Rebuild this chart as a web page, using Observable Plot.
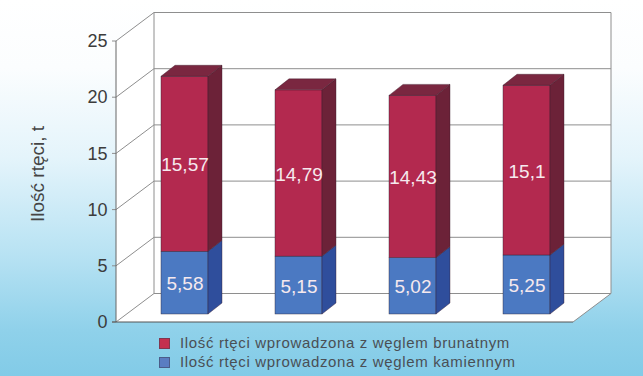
<!DOCTYPE html>
<html>
<head>
<meta charset="utf-8">
<script src="https://cdn.jsdelivr.net/npm/d3@7"></script>
<script src="https://cdn.jsdelivr.net/npm/@observablehq/plot@0.6"></script>
<style>
html, body { margin: 0; padding: 0; width: 643px; height: 376px; overflow: hidden; }
body {
  position: relative;
  font-family: "Liberation Sans", Arial, sans-serif;
  background: linear-gradient(to bottom, #ffffff 0%, #fbfdfe 18%, #e4f4fb 42%, #b7e2f3 68%, #8fd1ea 88%, #82cbe7 100%);
}
#chart svg { display: block; background: transparent; }
#legend { position: absolute; left: 159px; top: 333px; font-size: 15px; color: #4a4f55; letter-spacing: 0.65px; }
#legend div { height: 19px; line-height: 19px; white-space: nowrap; }
#legend span.sw { display: inline-block; width: 9px; height: 9px; margin-right: 10px; vertical-align: -1px; border: 1px solid rgba(60,60,80,0.5); }
</style>
</head>
<body>
<div id="chart"></div>
<div id="legend"></div>
<script>
// ---- data ----
const categories = ["1", "2", "3", "4"];            // four bars (no category labels shown)
const brunatny = [15.57, 14.79, 14.43, 15.1];       // brown coal (red, top)
const kamienny = [5.58, 5.15, 5.02, 5.25];          // hard coal (blue, bottom)
const seriesNames = [
  "Ilość rtęci wprowadzona z węglem brunatnym",
  "Ilość rtęci wprowadzona z węglem kamiennym"
];
const yTicks = [0, 5, 10, 15, 20, 25];
const yTitle = "Ilość rtęci, t";

// ---- style ----
const frontColors = ["#b3294f", "#4b79c2"];   // front faces [brunatny, kamienny]
const sideColors = ["#6c2238", "#2f4e9c"];    // side faces
const topColor = "#7a2740";
const gridColor = "#8e8e8e";
const FRONT = [-11, 8];      // front (axis) plane offset from bar plane
const BACK = [27, -20.5];    // back wall offset from bar plane
const DEPTH = [14, -11];     // bar depth

const fmt = v => String(v).replace(".", ",");

// stacked rows (bottom: kamienny, top: brunatny)
const rows = categories.flatMap((c, i) => [
  {cat: c, series: seriesNames[1], value: kamienny[i], base: 0},
  {cat: c, series: seriesNames[0], value: brunatny[i], base: kamienny[i]}
]);

// box (walls, floor, grid) drawn through the plot's scales
function box(index, scales, values, dim) {
  const y = scales.y;
  const L = dim.marginLeft, R = dim.width - dim.marginRight;
  const g = d3.create("svg:g");
  const y0 = y(0), yTop = y(d3.max(yTicks));
  const fl = [L + FRONT[0], y0 + FRONT[1]], ftl = [L + FRONT[0], yTop + FRONT[1]];
  const btl = [L + BACK[0], yTop + BACK[1]], btr = [R + BACK[0], yTop + BACK[1]];
  const bbr = [R + BACK[0], y0 + BACK[1]], fr = [R + FRONT[0], y0 + FRONT[1]];
  g.append("path").attr("d", "M" + [fl, ftl, btl, btr, bbr, fr].join("L") + "Z").attr("fill", "white");
  const lines = g.append("g").attr("stroke", gridColor).attr("stroke-width", 1).attr("fill", "none");
  for (const t of yTicks) {
    const yy = y(t);
    lines.append("line").attr("x1", L + BACK[0]).attr("x2", R + BACK[0]).attr("y1", yy + BACK[1]).attr("y2", yy + BACK[1]);
    lines.append("line").attr("x1", L + FRONT[0]).attr("x2", L + BACK[0]).attr("y1", yy + FRONT[1]).attr("y2", yy + BACK[1]);
    lines.append("line").attr("x1", L + FRONT[0] - 4).attr("x2", L + FRONT[0]).attr("y1", yy + FRONT[1]).attr("y2", yy + FRONT[1]);
  }
  lines.append("line").attr("x1", btl[0]).attr("x2", btl[0]).attr("y1", btl[1]).attr("y2", y0 + BACK[1]);
  lines.append("line").attr("x1", btr[0]).attr("x2", bbr[0]).attr("y1", btr[1]).attr("y2", bbr[1]);
  lines.append("line").attr("x1", bbr[0]).attr("x2", fr[0]).attr("y1", bbr[1]).attr("y2", fr[1]);
  lines.append("line").attr("x1", ftl[0]).attr("x2", fl[0]).attr("y1", ftl[1]).attr("y2", fl[1]).attr("stroke", "#666");
  lines.append("line").attr("x1", fl[0] - 4).attr("x2", fr[0]).attr("y1", fl[1]).attr("y2", fr[1]).attr("stroke", "#555");
  return g.node();
}

// side and top faces of the 3D bars
function barFaces(index, scales) {
  const x = scales.x, y = scales.y;
  const bw = typeof x.bandwidth === "function" ? x.bandwidth() : scales.scales.x.bandwidth;
  const g = d3.create("svg:g");
  rows.forEach(r => {
    const xl = x(r.cat), xr = xl + bw;
    const y1 = y(r.base), y2 = y(r.base + r.value);
    const si = seriesNames.indexOf(r.series);
    const side = [[xr, y1], [xr + DEPTH[0], y1 + DEPTH[1]], [xr + DEPTH[0], y2 + DEPTH[1]], [xr, y2]];
    g.append("path").attr("d", "M" + side.join("L") + "Z").attr("fill", sideColors[si]).attr("stroke", "#3a1a28").attr("stroke-width", 0.4);
    if (si === 0) {
      const top = [[xl, y2], [xl + DEPTH[0], y2 + DEPTH[1]], [xr + DEPTH[0], y2 + DEPTH[1]], [xr, y2]];
      g.append("path").attr("d", "M" + top.join("L") + "Z").attr("fill", topColor).attr("stroke", "#3a1a28").attr("stroke-width", 0.4);
    }
  });
  return g.node();
}

const chart = Plot.plot({
  width: 643,
  height: 342,
  marginLeft: 127,
  marginRight: 59,
  marginTop: 33,
  marginBottom: 28,
  style: {background: "transparent", fontFamily: "Liberation Sans, Arial, sans-serif"},
  x: {domain: categories, axis: null, paddingInner: 0.59, paddingOuter: 0.295},
  y: {domain: [0, 25], axis: null},
  color: {domain: seriesNames, range: frontColors},
  marks: [
    box,
    Plot.barY(rows, {x: "cat", y1: "base", y2: d => d.base + d.value, fill: "series", inset: 0, stroke: "#2a2030", strokeWidth: 0.4}),
    barFaces,
    Plot.text(rows, {x: "cat", y: d => d.base + d.value / 2, text: d => fmt(d.value), fill: "#f6e9ee", fontSize: 19, dy: 1, style: "letter-spacing:0.3px"}),
    Plot.text(yTicks, {y: d => d, text: d => String(d), frameAnchor: "left", dx: -20, dy: FRONT[1], textAnchor: "end", fontSize: 18, fill: "#3c3c3c", style: "letter-spacing:0.5px"}),
    Plot.text([yTitle], {frameAnchor: "left", textAnchor: "middle", dx: -90, dy: 0, rotate: -90, fontSize: 19, fill: "#444", style: "letter-spacing:0.8px"})
  ]
});
document.getElementById("chart").append(chart);

// legend
const legend = d3.select("#legend");
seriesNames.forEach((name, i) => {
  const row = legend.append("div");
  row.append("span").attr("class", "sw").style("background", i === 0 ? "#c4304f" : "#5a7dc2");
  row.append("span").text(name);
});
</script>
</body>
</html>
